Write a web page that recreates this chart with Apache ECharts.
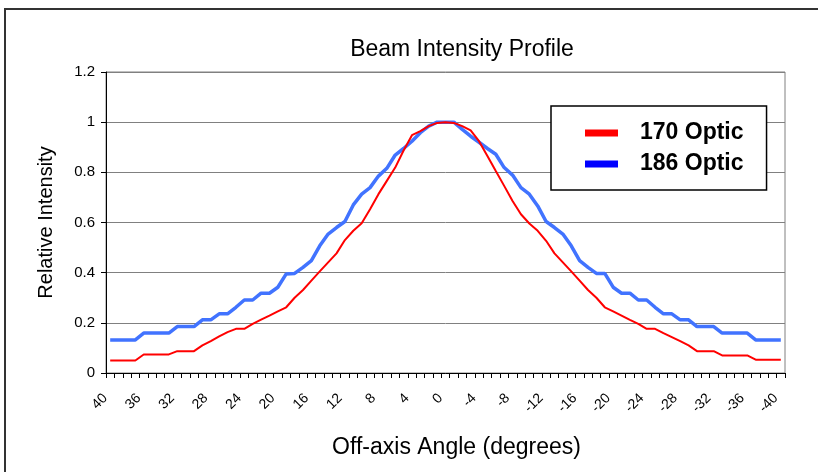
<!DOCTYPE html>
<html>
<head>
<meta charset="utf-8">
<script src="https://cdn.jsdelivr.net/npm/echarts@6/dist/echarts.min.js"></script>
<style>
html,body{margin:0;padding:0;background:#fff;}
#c{width:818px;height:472px;}
</style>
</head>
<body>
<div id="c"></div>
<script>
var angles = ['40','39','38','37','36','35','34','33','32','31','30','29','28','27','26','25','24','23','22','21','20','19','18','17','16','15','14','13','12','11','10','9','8','7','6','5','4','3','2','1','0','-1','-2','-3','-4','-5','-6','-7','-8','-9','-10','-11','-12','-13','-14','-15','-16','-17','-18','-19','-20','-21','-22','-23','-24','-25','-26','-27','-28','-29','-30','-31','-32','-33','-34','-35','-36','-37','-38','-39','-40'];

var optic170 = [0.05,0.05,0.05,0.05,0.074,0.074,0.074,0.074,0.087,0.087,0.087,0.11,0.127,0.146,0.163,0.176,0.176,0.196,0.213,0.229,0.246,0.262,0.3,0.331,0.368,0.405,0.441,0.477,0.53,0.567,0.597,0.653,0.713,0.766,0.819,0.887,0.948,0.964,0.984,0.997,1.0,0.997,0.984,0.967,0.924,0.865,0.805,0.746,0.686,0.633,0.596,0.567,0.527,0.477,0.441,0.405,0.368,0.331,0.3,0.262,0.246,0.229,0.212,0.196,0.176,0.176,0.159,0.143,0.127,0.11,0.087,0.087,0.087,0.07,0.07,0.07,0.07,0.053,0.053,0.053,0.053];

var optic186 = [0.132,0.132,0.132,0.132,0.159,0.159,0.159,0.159,0.185,0.185,0.185,0.212,0.212,0.236,0.236,0.262,0.291,0.291,0.318,0.318,0.342,0.395,0.397,0.421,0.448,0.507,0.554,0.58,0.604,0.67,0.713,0.739,0.785,0.816,0.869,0.895,0.924,0.958,0.984,1.0,1.0,1.0,0.971,0.944,0.92,0.895,0.872,0.819,0.789,0.739,0.713,0.666,0.604,0.58,0.554,0.507,0.448,0.421,0.397,0.397,0.342,0.318,0.318,0.291,0.291,0.262,0.236,0.236,0.212,0.212,0.185,0.185,0.185,0.159,0.159,0.159,0.159,0.132,0.132,0.132,0.132];

var yTicks = [0, 0.2, 0.4, 0.6, 0.8, 1, 1.2];

var FONT = '"Liberation Sans", Arial, sans-serif';
var chart = echarts.init(document.getElementById('c'), null, {renderer: 'canvas'});
chart.setOption({
  animation: false,
  backgroundColor: '#fff',
  textStyle: {fontFamily: FONT},
  graphic: [{
    type: 'rect',
    shape: {x: 5, y: 9, width: 900, height: 600},
    style: {fill: 'none', stroke: '#333', lineWidth: 2},
    silent: true,
    z: 0
  }],
  title: {
    text: 'Beam Intensity Profile',
    left: 457,
    textAlign: 'center',
    top: 33,
    textStyle: {fontFamily: FONT, fontSize: 23, fontWeight: 'normal', color: '#000'}
  },
  legend: {
    orient: 'vertical',
    left: 551,
    top: 106,
    padding: [13, 23, 12, 34],
    itemWidth: 33,
    itemHeight: 7,
    itemGap: 3,
    icon: 'rect',
    backgroundColor: '#fff',
    borderColor: '#000',
    borderWidth: 1.5,
    borderRadius: 0,
    textStyle: {fontFamily: FONT, fontSize: 23, fontWeight: 'bold', color: '#000', lineHeight: 28, padding: [0, 0, 0, 17]},
    data: [
      {name: '170 Optic', itemStyle: {color: '#ff0000'}},
      {name: '186 Optic', itemStyle: {color: '#0000ff'}}
    ]
  },
  grid: {
    left: 106, right: 33, top: 72, bottom: 99,
    show: true, borderColor: '#808080', borderWidth: 1, backgroundColor: 'transparent'
  },
  xAxis: {
    type: 'category',
    data: angles,
    boundaryGap: true,
    name: 'Off-axis Angle (degrees)',
    nameLocation: 'middle',
    nameGap: 63,
    nameTextStyle: {fontFamily: FONT, fontSize: 23, color: '#000', padding: [0, 0, 0, 22]},
    axisLine: {lineStyle: {color: '#000', width: 1}},
    axisTick: {show: true, interval: 0, length: 5, alignWithLabel: false, lineStyle: {color: '#000'}},
    axisLabel: {interval: 3, rotate: 45, fontSize: 14, color: '#000', margin: 28, verticalAlign: 'bottom', align: 'right', fontFamily: FONT},
    splitLine: {show: false}
  },
  yAxis: {
    type: 'value',
    min: yTicks[0],
    max: yTicks[yTicks.length - 1],
    interval: 0.2,
    name: 'Relative Intensity',
    nameLocation: 'middle',
    nameGap: 50,
    nameRotate: 90,
    nameTextStyle: {fontFamily: FONT, fontSize: 20, color: '#000'},
    axisLine: {show: true, lineStyle: {color: '#000', width: 1}},
    axisTick: {show: true, length: 5, lineStyle: {color: '#000'}},
    axisLabel: {fontSize: 15, color: '#000', margin: 11, fontFamily: FONT},
    splitLine: {show: true, lineStyle: {color: '#808080', width: 1}}
  },
  series: [
    {
      name: '170 Optic',
      type: 'line',
      data: optic170,
      symbol: 'none',
      lineStyle: {color: '#ff0000', width: 2},
      itemStyle: {color: '#ff0000'},
      z: 3
    },
    {
      name: '186 Optic',
      type: 'line',
      data: optic186,
      symbol: 'none',
      lineStyle: {color: '#4173ff', width: 3.5},
      itemStyle: {color: '#0000ff'},
      z: 2
    }
  ]
});
</script>
</body>
</html>
